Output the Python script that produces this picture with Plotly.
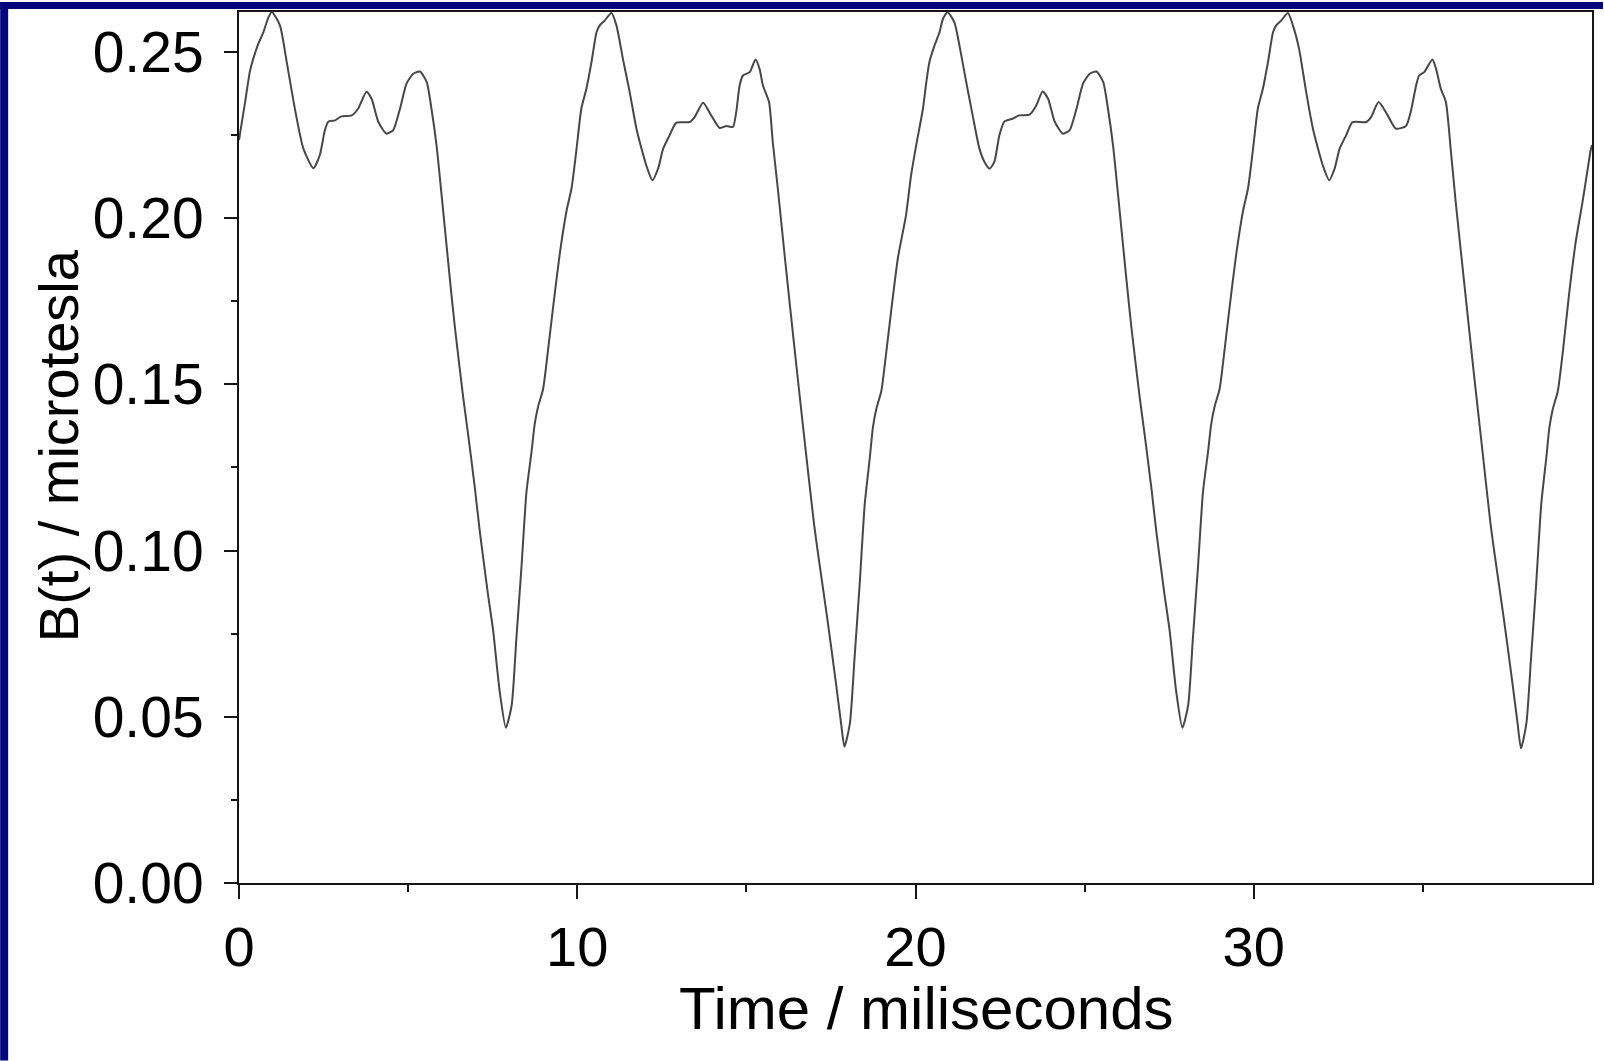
import plotly.graph_objects as go

# ---- data (time in ms, field in microtesla) ----
t_a = [0.00, 0.18, 0.32, 0.42, 0.57, 0.72, 0.87, 0.97, 1.21, 1.41, 1.65, 1.90, 2.20, 2.39,
       2.54, 2.64, 2.84, 3.03, 3.33, 3.52, 3.77, 3.92, 4.12, 4.36, 4.56, 4.76, 4.95, 5.15,
       5.35, 5.55, 5.69, 5.84, 5.99, 6.23, 6.38, 6.63, 6.77, 6.97, 7.12, 7.36, 7.51, 7.71,
       7.89, 8.06, 8.20, 8.35, 8.50, 8.65, 8.74, 8.84, 8.99, 9.14, 9.28, 9.48, 9.68, 9.83, 9.98]
b_a = [0.2235, 0.2349, 0.2440, 0.2479, 0.2524, 0.2559, 0.2604, 0.2620, 0.2580, 0.2470, 0.2330,
       0.2210, 0.2150, 0.2190, 0.2265, 0.2290, 0.2294, 0.2306, 0.2309, 0.2329, 0.2380, 0.2359,
       0.2289, 0.2254, 0.2265, 0.2329, 0.2404, 0.2434, 0.2441, 0.2409, 0.2329, 0.2219, 0.2069,
       0.1821, 0.1674, 0.1459, 0.1352, 0.1191, 0.1057, 0.0869, 0.0762, 0.0574, 0.0467, 0.0534,
       0.0735, 0.0949, 0.1177, 0.1298, 0.1379, 0.1432, 0.1486, 0.1606, 0.1727, 0.1890, 0.2020,
       0.2089, 0.2209]

t_b = [10.12, 10.27, 10.42, 10.57, 10.66, 10.81, 11.01, 11.16, 11.35, 11.55, 11.75, 11.90,
       12.04, 12.22, 12.39, 12.54, 12.73, 12.93, 13.32, 13.47, 13.72, 13.96, 14.21, 14.41,
       14.60, 14.70, 14.80, 14.90, 15.10, 15.27, 15.39, 15.49, 15.67, 15.78, 15.93, 16.13,
       16.40, 16.70, 17.00, 17.12, 17.40, 17.65, 17.80, 17.90, 18.06, 18.20, 18.35, 18.50,
       18.65, 18.74, 18.84, 18.99, 19.14, 19.28, 19.48, 19.72, 19.87]
b_b = [0.2329, 0.2389, 0.2469, 0.2559, 0.2579, 0.2594, 0.2617, 0.2579, 0.2479, 0.2379, 0.2269,
       0.2209, 0.2159, 0.2114, 0.2149, 0.2209, 0.2249, 0.2287, 0.2289, 0.2304, 0.2347, 0.2309,
       0.2271, 0.2277, 0.2274, 0.2319, 0.2399, 0.2429, 0.2439, 0.2477, 0.2449, 0.2399, 0.2349,
       0.2229, 0.2089, 0.1889, 0.1630, 0.1350, 0.1080, 0.0990, 0.0790, 0.0600, 0.0480, 0.0410,
       0.0480, 0.0680, 0.0900, 0.1140, 0.1280, 0.1370, 0.1425, 0.1480, 0.1600, 0.1720, 0.1880,
       0.2009, 0.2129]

t_c = [20.02, 20.22, 20.32, 20.41, 20.56, 20.71, 20.81, 20.95, 21.15, 21.30, 21.50, 21.69,
       21.89, 22.04, 22.19, 22.33, 22.48, 22.63, 22.87, 23.07, 23.37, 23.57, 23.76, 23.92,
       24.12, 24.36, 24.56, 24.76, 24.95, 25.15, 25.35, 25.55, 25.69, 25.84, 25.99, 26.23,
       26.38, 26.63, 26.77, 26.97, 27.12, 27.36, 27.51, 27.71, 27.89, 28.06, 28.20, 28.35,
       28.50, 28.65, 28.74, 28.84, 28.99, 29.14, 29.28, 29.48, 29.68, 29.83, 29.98]
b_c = [0.2219, 0.2329, 0.2409, 0.2469, 0.2519, 0.2559, 0.2599, 0.2619, 0.2589, 0.2519, 0.2409,
       0.2309, 0.2209, 0.2169, 0.2149, 0.2169, 0.2249, 0.2291, 0.2299, 0.2309, 0.2311, 0.2339,
       0.2381, 0.2359, 0.2289, 0.2254, 0.2265, 0.2329, 0.2404, 0.2434, 0.2441, 0.2409, 0.2329,
       0.2219, 0.2069, 0.1821, 0.1674, 0.1459, 0.1352, 0.1191, 0.1057, 0.0869, 0.0762, 0.0574,
       0.0467, 0.0534, 0.0735, 0.0949, 0.1177, 0.1298, 0.1379, 0.1432, 0.1486, 0.1606, 0.1727,
       0.1890, 0.2020, 0.2089, 0.2209]

t_d = [30.12, 30.27, 30.42, 30.57, 30.66, 30.81, 31.01, 31.16, 31.34, 31.55, 31.75, 31.90,
       32.04, 32.23, 32.39, 32.54, 32.73, 32.92, 33.32, 33.47, 33.69, 33.96, 34.20, 34.50,
       34.64, 34.80, 34.89, 35.04, 35.28, 35.39, 35.53, 35.68, 35.83, 35.97, 36.27, 36.50,
       36.75, 37.00, 37.12, 37.40, 37.65, 37.80, 37.90, 38.06, 38.20, 38.35, 38.50, 38.65,
       38.74, 38.84, 38.99, 39.14, 39.32, 39.52, 39.72, 39.89, 39.96, 40.00]
b_d = [0.2329, 0.2389, 0.2469, 0.2559, 0.2579, 0.2594, 0.2617, 0.2579, 0.2509, 0.2379, 0.2269,
       0.2209, 0.2159, 0.2114, 0.2149, 0.2209, 0.2249, 0.2289, 0.2289, 0.2304, 0.2349, 0.2309,
       0.2269, 0.2277, 0.2319, 0.2399, 0.2429, 0.2439, 0.2477, 0.2449, 0.2389, 0.2349, 0.2199,
       0.2049, 0.1759, 0.1540, 0.1310, 0.1080, 0.0990, 0.0790, 0.0600, 0.0480, 0.0405, 0.0480,
       0.0680, 0.0900, 0.1140, 0.1280, 0.1370, 0.1425, 0.1480, 0.1600, 0.1769, 0.1929, 0.2049,
       0.2159, 0.2204, 0.2220]

x_ticks = [0, 10, 20, 30]
x_ticktext = ["0", "10", "20", "30"]
x_minor = [5, 15, 25, 35]
y_ticks = [0.00, 0.05, 0.10, 0.15, 0.20, 0.25]
y_ticktext = ["0.00", "0.05", "0.10", "0.15", "0.20", "0.25"]
y_minor = [0.025, 0.075, 0.125, 0.175, 0.225]

x_title = "Time / miliseconds"
y_title = "B(t) / microtesla"

t_all = t_a + t_b + t_c + t_d
b_all = b_a + b_b + b_c + b_d

FONT = "Liberation Sans, Arial, sans-serif"
NAVY = "#05057c"
AX = "#151515"

fig = go.Figure()
fig.add_trace(go.Scatter(
    x=t_all, y=b_all, mode="lines",
    line=dict(color="#474747", width=2, shape="spline", smoothing=0.6),
    showlegend=False, hoverinfo="x+y",
))

W, H = 1604, 1061
ML, MR, MT, MB = 239, 11, 10, 178
PW = W - ML - MR
PH = H - MT - MB

def px_x(p):
    return (p - ML) / PW

def px_y(p):
    return (H - MB - p) / PH

fig.update_layout(
    width=W, height=H,
    margin=dict(l=ML, r=MR, t=MT, b=MB, pad=0),
    paper_bgcolor="white", plot_bgcolor="white",
    font=dict(family=FONT, color="black"),
    xaxis=dict(
        range=[0, 40], tickmode="array", tickvals=x_ticks, ticktext=x_ticktext,
        ticks="outside", ticklen=14, tickwidth=2, tickcolor=AX,
        showline=True, linewidth=2, linecolor=AX, mirror=True,
        showgrid=False, zeroline=False,
        tickfont=dict(family=FONT, size=56, color="black"),
        ticklabelstandoff=0,
        minor=dict(tickmode="array", tickvals=x_minor, ticks="outside",
                   ticklen=7, tickwidth=2, tickcolor=AX, showgrid=False),
    ),
    yaxis=dict(
        range=[0, 0.262], tickmode="array", tickvals=y_ticks, ticktext=y_ticktext,
        ticks="outside", ticklen=13, tickwidth=2, tickcolor=AX,
        showline=True, linewidth=2, linecolor=AX, mirror=True,
        showgrid=False, zeroline=False,
        tickfont=dict(family=FONT, size=57, color="black"),
        ticklabelstandoff=9,
        minor=dict(tickmode="array", tickvals=y_minor, ticks="outside",
                   ticklen=6, tickwidth=2, tickcolor=AX, showgrid=False),
    ),
    shapes=[
        dict(type="rect", xref="paper", yref="paper", layer="above",
             x0=px_x(0), x1=px_x(8), y0=px_y(H), y1=px_y(0),
             fillcolor=NAVY, line=dict(width=0)),
        dict(type="rect", xref="paper", yref="paper", layer="above",
             x0=px_x(0), x1=px_x(W), y0=px_y(7), y1=px_y(0),
             fillcolor=NAVY, line=dict(width=0)),
    ],
    annotations=[
        dict(text=x_title, xref="paper", yref="paper", x=px_x(927), y=px_y(1009),
             xanchor="center", yanchor="middle", showarrow=False,
             font=dict(family=FONT, size=60, color="black")),
        dict(text=y_title, xref="paper", yref="paper", x=px_x(58), y=px_y(445),
             xanchor="center", yanchor="middle", showarrow=False, textangle=-90,
             font=dict(family=FONT, size=56, color="black")),
    ],
)

fig.write_html(
    "out.html",
    config={"displayModeBar": False},
    post_script="document.body.style.margin='0';document.body.style.overflow='hidden';",
)
